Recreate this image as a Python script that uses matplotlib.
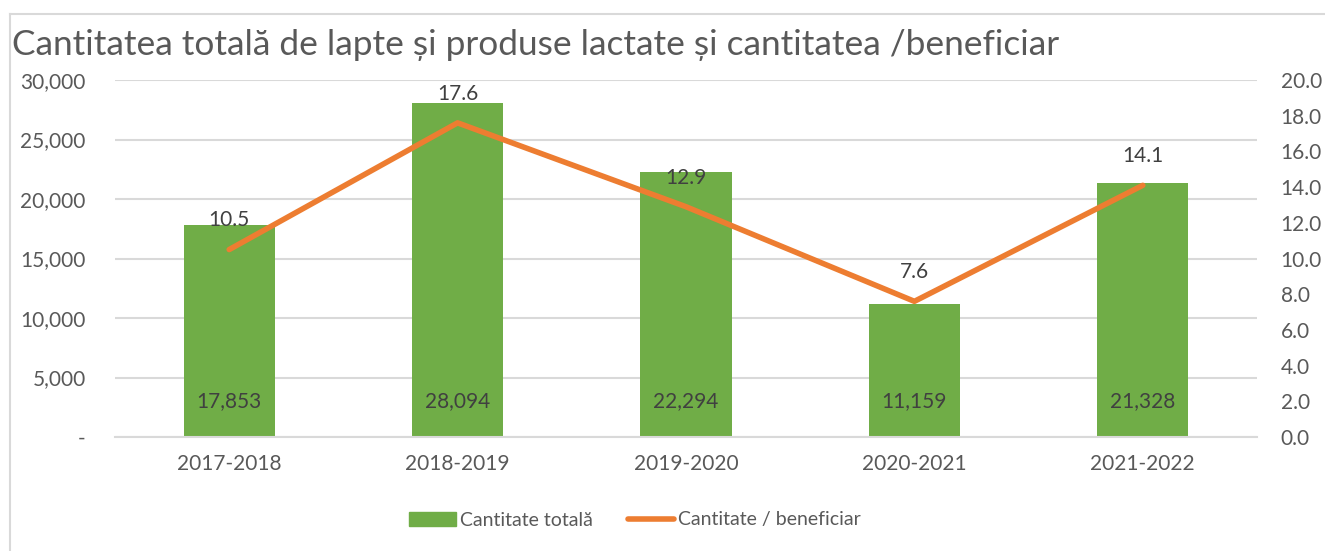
import matplotlib.pyplot as plt
import matplotlib.ticker as mtick
from matplotlib.lines import Line2D

plt.rcParams['font.family'] = ['Lato', 'DejaVu Sans']

seasons = ["2017-2018", "2018-2019", "2019-2020", "2020-2021", "2021-2022"]
total = [17853, 28094, 22294, 11159, 21328]
per_benef = [10.5, 17.6, 12.9, 7.6, 14.1]

green = "#70AD47"
orange = "#ED7D31"
txt = "#595959"
grid = "#D9D9D9"

fig = plt.figure(figsize=(13.25, 5.51), dpi=100)
ax1 = fig.add_axes([115 / 1325, 1 - 437 / 551, (1257 - 115) / 1325, (437 - 80) / 551])
x = list(range(len(seasons)))

ax1.bar(x, total, width=0.4, color=green, zorder=2, label="Cantitate totală")
ax1.set_ylim(0, 30000)
ax1.set_xlim(-0.5, len(seasons) - 0.5)
ax1.set_yticks(range(0, 30001, 5000))
ax1.yaxis.set_major_formatter(mtick.FuncFormatter(lambda v, p: "-" if v == 0 else f"{int(v):,}"))
ax1.set_xticks(x)
ax1.set_xticklabels(seasons)
ax1.grid(axis="y", color=grid, linewidth=1.5, zorder=0)
for s in ax1.spines.values():
    s.set_visible(False)
ax1.spines["bottom"].set_visible(True)
ax1.spines["bottom"].set_color(grid)
ax1.spines["bottom"].set_linewidth(1.5)
ax1.tick_params(axis="both", length=0, labelsize=15, colors=txt, pad=12)
ax1.tick_params(axis="y", pad=21)

for xi, v in zip(x, total):
    ax1.annotate(f"{v:,}", (xi, 0), xytext=(0, 26), textcoords="offset points",
                 ha="center", va="center", fontsize=15, color="#404040", zorder=4)

ax2 = ax1.twinx()
ax2.plot(x, per_benef, color=orange, linewidth=4, solid_capstyle="round", zorder=3,
         label="Cantitate / beneficiar")
ax2.set_ylim(0, 20)
ax2.set_yticks([i * 2 for i in range(11)])
ax2.yaxis.set_major_formatter(mtick.FormatStrFormatter("%.1f"))
for s in ax2.spines.values():
    s.set_visible(False)
ax2.tick_params(axis="y", length=0, labelsize=15, colors=txt, pad=17)

for xi, v in zip(x, per_benef):
    ax2.annotate(f"{v:.1f}", (xi, v), xytext=(0, 21), textcoords="offset points",
                 ha="center", va="center", fontsize=15, color="#404040", zorder=4)

fig.text(12 / 1325, 1 - 45 / 551, "Cantitatea totală de lapte și produse lactate și cantitatea /beneficiar",
         fontsize=25.4, color=txt, ha="left", va="center")

handles = [plt.Rectangle((0, 0), 1, 1, color=green),
           Line2D([0], [0], color=orange, linewidth=4, solid_capstyle="round")]
fig.legend(handles, ["Cantitate totală", "Cantitate / beneficiar"], loc="center",
           bbox_to_anchor=(635 / 1325, 1 - 520 / 551), ncol=2, frameon=False,
           fontsize=14, labelcolor=txt, handlelength=2.4, handletextpad=0.2, columnspacing=1.8)

fig.add_artist(Line2D([10 / 1325, 10 / 1325], [0, 1 - 14 / 551], color=grid, linewidth=1.5))
fig.add_artist(Line2D([10 / 1325, 1], [1 - 14 / 551, 1 - 14 / 551], color=grid, linewidth=1.5))

fig.savefig("out.png", dpi=100)
